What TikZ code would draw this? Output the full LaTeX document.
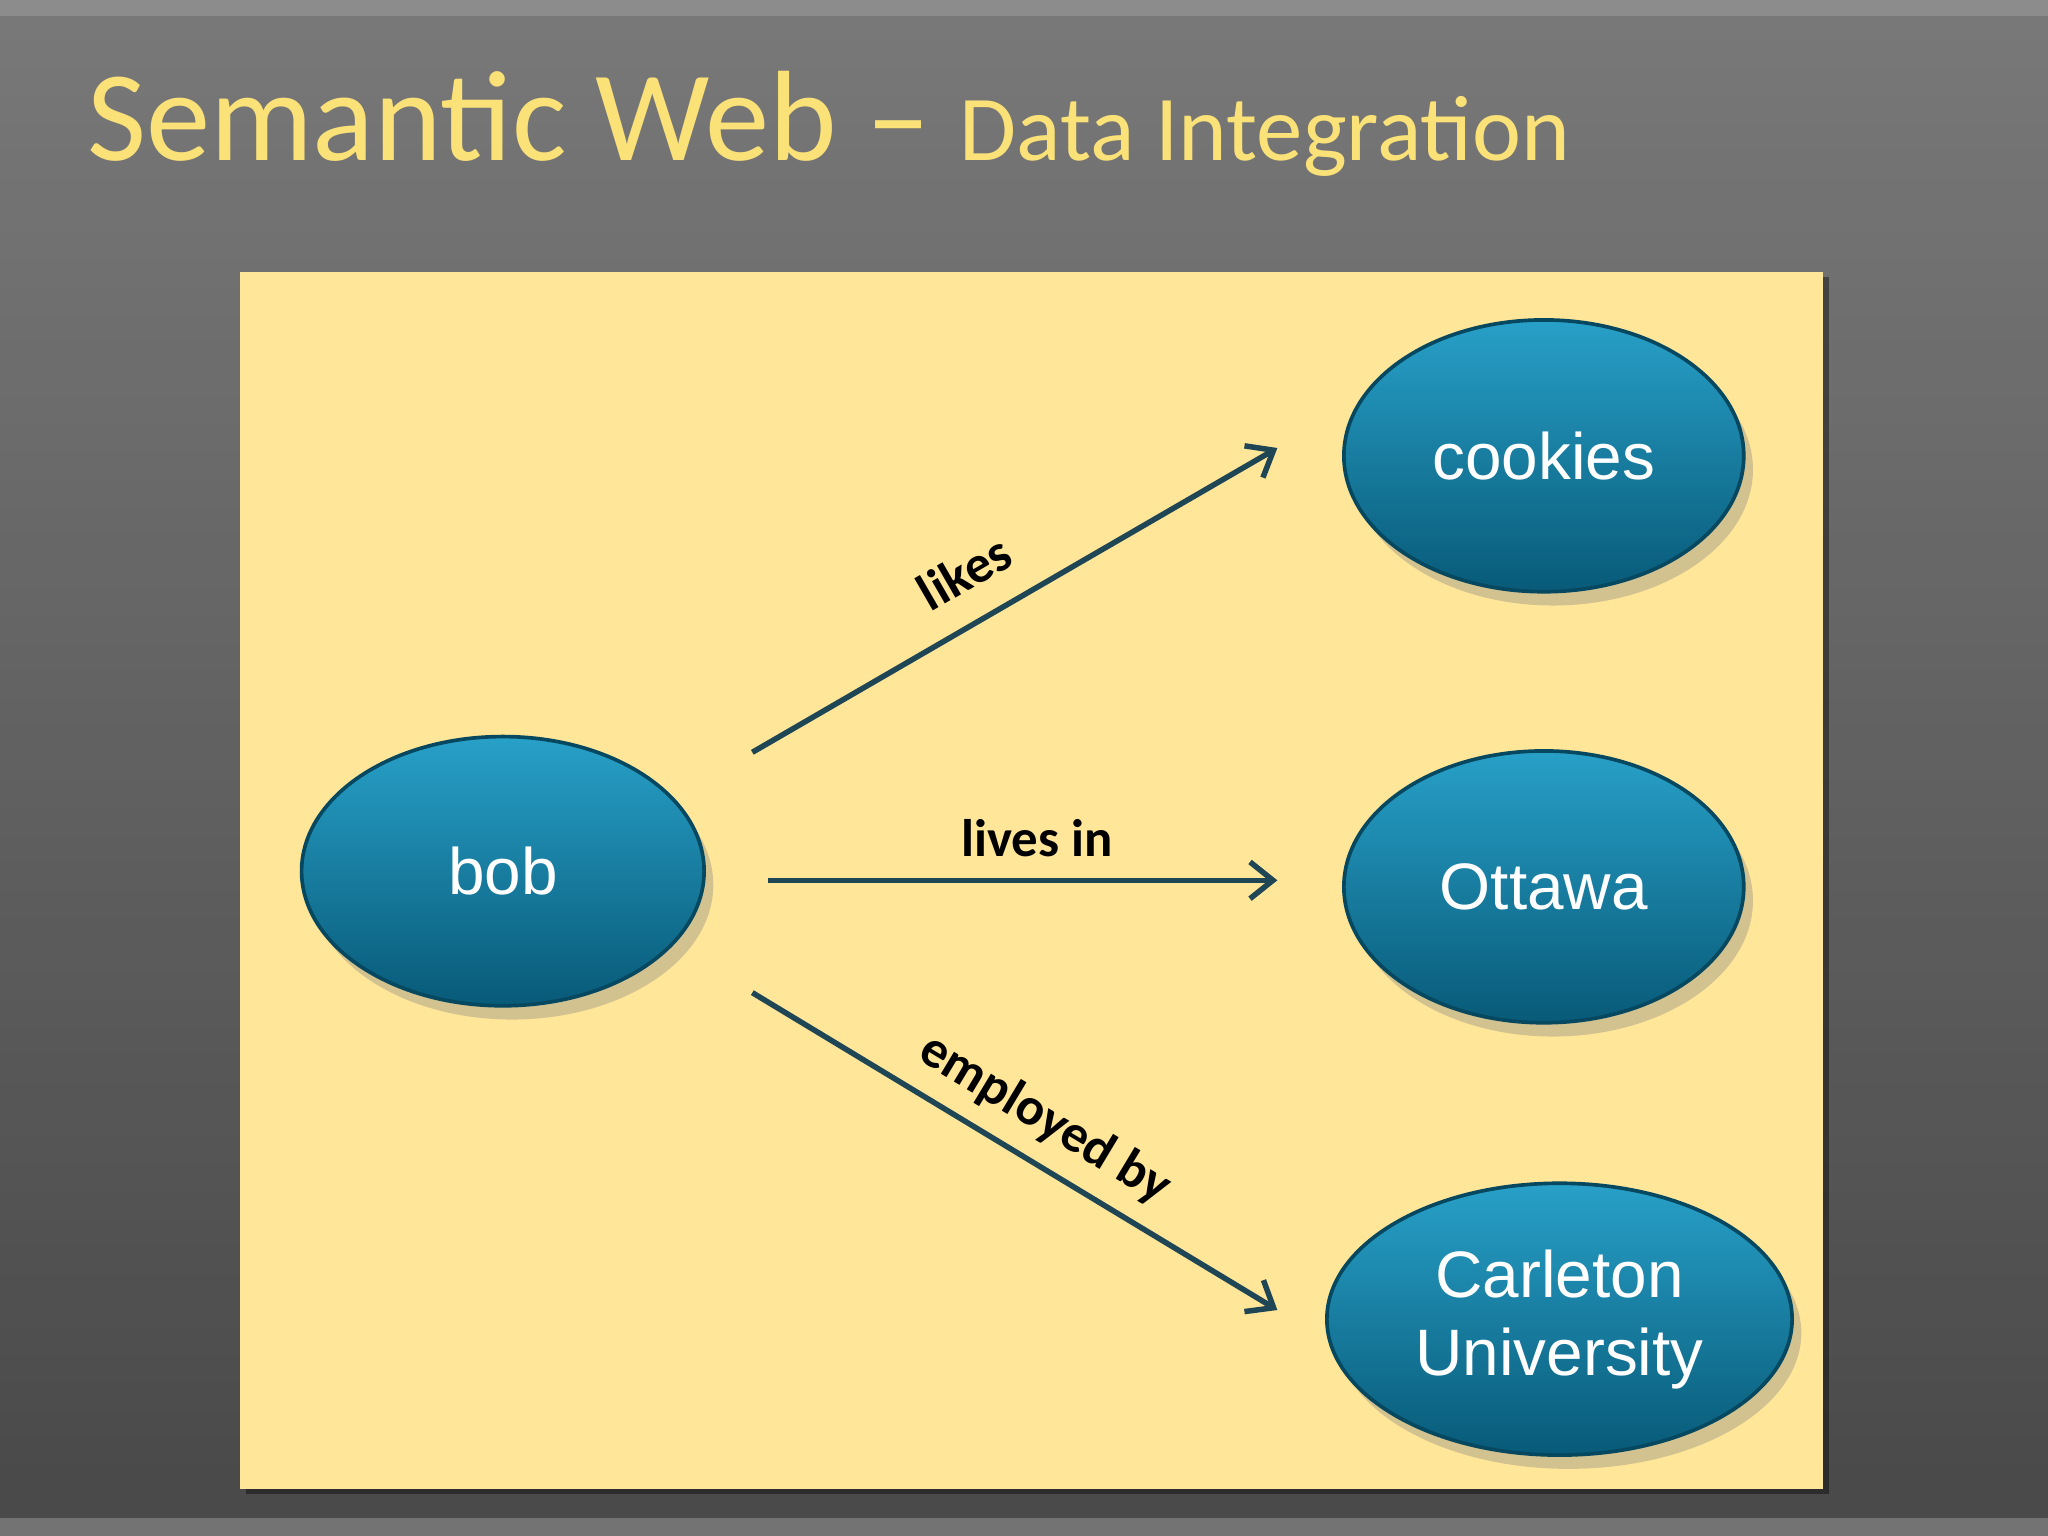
\documentclass[tikz,border=0pt]{standalone}
\usepackage{fontspec}
\setmainfont{Carlito}
\newfontfamily\arialf{Liberation Sans}
\usetikzlibrary{shapes.geometric,arrows.meta,shadows}
\definecolor{boxy}{RGB}{255,230,153}
\definecolor{tealtop}{RGB}{40,160,200}
\definecolor{tealbot}{RGB}{8,90,120}
\definecolor{arrowc}{RGB}{30,70,85}
\definecolor{titley}{RGB}{250,225,120}
\begin{document}
\begin{tikzpicture}[x=0.01cm,y=-0.01cm,
  ell/.style={ellipse,top color=tealtop,bottom color=tealbot,draw=tealbot!80!black,line width=0.8pt,
    font=\arialf\fontsize{14.3}{17}\selectfont,text=white,align=center,inner sep=0pt,
    drop shadow={opacity=0.35,shadow xshift=2pt,shadow yshift=-3pt}},
  rel/.style={draw=arrowc,line width=1.2pt,-{Straight Barb[length=5pt,width=8pt]}},
  lab/.style={font=\bfseries\fontsize{11.5}{13}\selectfont,text=black}]
\useasboundingbox (0,0) rectangle (1568,1176);
\shade[top color=black!60,bottom color=black!82] (0,0) rectangle (1568,1176);
\shade[left color=black!10,right color=black!10,opacity=0.15] (0,0) rectangle (1568,1176);
\fill[black!45] (0,0) rectangle (1568,12);
\fill[black!55] (0,1162) rectangle (1568,1176);
\node[anchor=base west,inner sep=0pt,text=titley,font=\fontsize{28}{32}\selectfont] (title) at (66,123)
  {Semantic Web -- {\fontsize{20.2}{24}\selectfont Data Integration}};
\fill[black,opacity=0.4] (188,212) rectangle (1400,1144);
\fill[boxy] (184,208) rectangle (1396,1140);
\node[ell,minimum width=3.08cm,minimum height=2.06cm] (bob) at (385,667) {bob};
\node[ell,minimum width=3.06cm,minimum height=2.08cm] (cookies) at (1182,349) {cookies};
\node[ell,minimum width=3.06cm,minimum height=2.08cm] (ottawa) at (1182,679) {Ottawa};
\node[ell,minimum width=3.56cm,minimum height=2.08cm] (carleton) at (1194,1010) {Carleton\\University};
\coordinate (s1) at (576,576); \coordinate (e1) at (978,343);
\coordinate (s2) at (588,674); \coordinate (e2) at (978,674);
\coordinate (s3) at (576,760); \coordinate (e3) at (978,1003);
\draw[rel] (s1) -- (e1);
\draw[rel] (s2) -- (e2);
\draw[rel] (s3) -- (e3);
\node[lab,rotate=30] (l1) at (738,438) {likes};
\node[lab] (l2) at (794,642) {lives in};
\node[lab,rotate=-31] (l3) at (800,857) {employed by};
\end{tikzpicture}
\end{document}
